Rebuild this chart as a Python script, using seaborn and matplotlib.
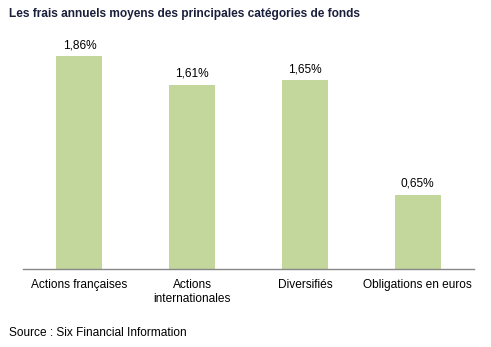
import matplotlib
matplotlib.use("Agg")
import matplotlib.pyplot as plt
import seaborn as sns
import pandas as pd

categories = ["Actions françaises", "Actions\ninternationales", "Diversifiés", "Obligations en euros"]
values = [1.86, 1.61, 1.65, 0.65]
value_labels = ["1,86%", "1,61%", "1,65%", "0,65%"]
title = "Les frais annuels moyens des principales catégories de fonds"
source = "Source : Six Financial Information"

sns.set_theme(style="white")
plt.rcParams['font.family'] = ['Liberation Sans', 'DejaVu Sans']

W, H = 491, 347
fig = plt.figure(figsize=(W / 100, H / 100), dpi=100)
ax = fig.add_axes([23 / W, (H - 269) / H, (474 - 23) / W, (269 - 30) / H])

df = pd.DataFrame({"cat": categories, "val": values})
sns.barplot(data=df, x="cat", y="val", color="#C3D69B", width=0.41, ax=ax,
            saturation=1, linewidth=0)

ax.set_xlim(-0.5, 3.5)
ax.set_ylim(0, 239 / 114.5)
for i, (v, lab) in enumerate(zip(values, value_labels)):
    ax.annotate(lab, (i, v), xytext=(0, 3.5), textcoords="offset points",
                ha="center", va="bottom", fontsize=8.6, color="#000000")

for s in ["top", "right", "left"]:
    ax.spines[s].set_visible(False)
ax.spines["bottom"].set_color("#888888")
ax.spines["bottom"].set_linewidth(1)
ax.set_yticks([])
ax.set_xlabel("")
ax.set_ylabel("")
ax.tick_params(axis="x", length=0, pad=7.5, labelsize=8.6, colors="#000000")
for t in ax.get_xticklabels():
    t.set_linespacing(1.2)

fig.text(9 / W, 1 - 14 / H, title, fontsize=8.6, fontweight="bold", color="#1A1F3C",
         ha="left", va="center")
fig.text(9 / W, 1 - 333 / H, source, fontsize=8.6, color="#000000", ha="left", va="center")

fig.savefig("out.png", dpi=100, facecolor="white")
